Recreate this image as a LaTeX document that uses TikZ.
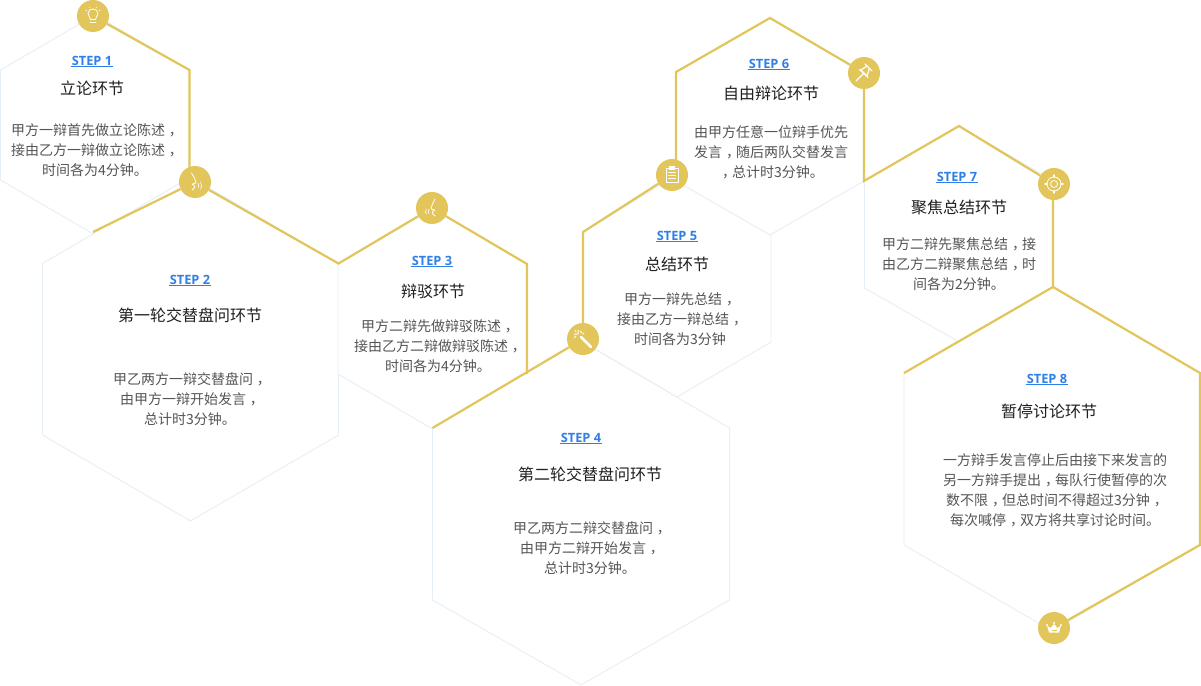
\documentclass[tikz,border=0pt]{standalone}
\usepackage{fontspec}
\setmainfont{Noto Sans CJK SC}
\newfontfamily\stepfont{Open Sans}
\definecolor{gold}{HTML}{E2C55B}
\definecolor{pale}{HTML}{E6EFF5}
\definecolor{stepblue}{HTML}{2F7FE8}
\definecolor{bodygray}{HTML}{555555}
\newcommand{\cmm}{\makebox[14pt][l]{\hspace{4pt}，}}
\newcommand{\hexg}[7]{%
 \coordinate (#1t) at (#2,#4);
 \coordinate (#1ur) at (#2+#3,#5);
 \coordinate (#1lr) at (#2+#3,#6);
 \coordinate (#1b) at (#2,#7);
 \coordinate (#1ll) at (#2-#3,#6);
 \coordinate (#1ul) at (#2-#3,#5);
 \draw[hexline] (#1t)--(#1ur)--(#1lr)--(#1b)--(#1ll)--(#1ul)--cycle;}
\newcommand{\stepl}[4]{%
 \node[steptxt] (#1) at (#2,#3) {#4};
 \draw[stepblue,line width=1pt] ([xshift=-0.8pt,yshift=-1.2pt]#1.south west)--([xshift=0.8pt,yshift=-1.2pt]#1.south east);}
\tikzset{
 hexline/.style={draw=pale,line width=0.9pt,fill=white,line join=miter},
 goldline/.style={draw=gold,line width=2.2pt,line join=miter},
 badge/.style={circle,fill=gold,minimum size=32pt,inner sep=0pt},
 steptxt/.style={font=\stepfont\bfseries\fontsize{12.8}{14}\selectfont,text=stepblue,inner sep=0pt,text height=9pt,text depth=0pt},
 ttl/.style={font=\fontsize{16}{20}\selectfont,text=black!88,inner sep=0pt},
 bodytxt/.style={font=\fontsize{14}{20}\selectfont,text=bodygray,inner sep=0pt,align=center},
 ico/.style={draw=white,line width=0.8pt,line cap=round,line join=round},
 icof/.style={fill=white,draw=none},
}
\begin{document}
\begin{tikzpicture}[x=1pt,y=-1pt]
\useasboundingbox (0,0) rectangle (1201,685);
% hexagons
\hexg{a}{95}{94.5}{15}{70}{180}{235}
\hexg{b}{190.5}{148}{177}{263.5}{435}{521}
\hexg{c}{432.5}{94.5}{209}{264}{374}{429}
\hexg{e}{677}{94}{175}{232}{342}{397}
\hexg{f}{770}{94}{18}{72}{181}{235}
\hexg{g}{959}{94.5}{126}{181}{288}{342}
\hexg{d}{581}{148.5}{341}{428}{600}{685}
\hexg{h}{1052}{148}{287}{373}{545}{631}
% badges
\node[badge] (c1) at (93,16) {};
\node[badge] (c2) at (195,182) {};
\node[badge] (c3) at (432,208) {};
\node[badge] (c4) at (583,339) {};
\node[badge] (c5) at (672,175) {};
\node[badge] (c6) at (864,73) {};
\node[badge] (c7) at (1054,184) {};
\node[badge] (c8) at (1054,628) {};
% gold
\coordinate (g1) at (189.5,172);
\coordinate (g2) at (93,232);
\coordinate (g3) at (583,325);
\coordinate (g4) at (676,162);
\coordinate (g5) at (1053,190);
\coordinate (g6) at (1053,287);
\draw[goldline] (c1)--(aur)--(g1);
\draw[goldline] (g2)--(c2);
\draw[goldline] (c2)--(bur)--(c3)--(cur)--(clr);
\draw[goldline] (dul)--(c4);
\draw[goldline] (g3)--(eul)--(c5);
\draw[goldline] (g4)--(ful)--(ft)--(c6);
\draw[goldline] (c6)--(flr)--(gt)--(c7);
\draw[goldline] (g5)--(g6)--(hul);
\draw[goldline] (g6)--(hur)--(hlr)--(c8);
% text
\stepl{s1}{92}{61}{STEP 1}
\node[ttl] (t1) at (92,88) {立论环节};
\node[bodytxt] (b1) at (95,150) {甲方一辩首先做立论陈述\cmm\\接由乙方一辩做立论陈述\cmm\\时间各为4分钟。};
\stepl{s2}{190}{280}{STEP 2}
\node[ttl] (t2) at (190,315) {第一轮交替盘问环节};
\node[bodytxt] (b2) at (190,399) {甲乙两方一辩交替盘问\cmm\\由甲方一辩开始发言\cmm\\总计时3分钟。};
\stepl{s3}{432}{261}{STEP 3}
\node[ttl] (t3) at (433,291) {辩驳环节};
\node[bodytxt] (b3) at (438,346) {甲方二辩先做辩驳陈述\cmm\\接由乙方二辩做辩驳陈述\cmm\\时间各为4分钟。};
\stepl{s4}{581}{438}{STEP 4}
\node[ttl] (t4) at (590,474) {第二轮交替盘问环节};
\node[bodytxt] (b4) at (590,548) {甲乙两方二辩交替盘问\cmm\\由甲方二辩开始发言\cmm\\总计时3分钟。};
\stepl{s5}{677}{236}{STEP 5}
\node[ttl] (t5) at (677,264) {总结环节};
\node[bodytxt] (b5) at (680,319) {甲方一辩先总结\cmm\\接由乙方一辩总结\cmm\\时间各为3分钟};
\stepl{s6}{769}{63.5}{STEP 6}
\node[ttl] (t6) at (771,93) {自由辩论环节};
\node[bodytxt] (b6) at (771,152) {由甲方任意一位辩手优先\\发言\cmm 随后两队交替发言\\\cmm 总计时3分钟。};
\stepl{s7}{957}{177}{STEP 7}
\node[ttl] (t7) at (959,207) {聚焦总结环节};
\node[bodytxt] (b7) at (959,264) {甲方二辩先聚焦总结\cmm 接\\由乙方二辩聚焦总结\cmm 时\\间各为2分钟。};
\stepl{s8}{1047}{379}{STEP 8}
\node[ttl] (t8) at (1049,411) {暂停讨论环节};
\node[bodytxt] (b8) at (1055,490) {一方辩手发言停止后由接下来发言的\\另一方辩手提出\cmm 每队行使暂停的次\\数不限\cmm 但总时间不得超过3分钟\cmm\\每次喊停\cmm 双方将共享讨论时间。};
% icons
\begin{scope}[shift={(c1)}]
 \draw[ico] (-3,6)--(3,6) (-2.5,3.5)--(2.5,3.5);
 \draw[ico] (-2.5,3.5) .. controls (-2.5,0.5) and (-5,0) .. (-5,-2.5) .. controls (-5,-5.5) and (-2.5,-7) .. (0,-7) .. controls (2.5,-7) and (5,-5.5) .. (5,-2.5) .. controls (5,0) and (2.5,0.5) .. (2.5,3.5);
 \draw[ico,line width=0.6pt] (-7.5,-6)--(-6,-5) (7.5,-6)--(6,-5) (-3.5,-9)--(-3,-8) (3.5,-9)--(3,-8);
\end{scope}
\begin{scope}[shift={(c2)}]
 \draw[ico] (-3.5,-9) .. controls (-1,-5) and (0,-3) .. (1,0) .. controls (1.5,2) and (-3,1) .. (-2.5,2.5) .. controls (0,3) and (1,5) .. (-3,8);
 \draw[ico,line width=0.6pt] (3,1) .. controls (4,3) and (4,5) .. (3,6) (5.5,0) .. controls (7,3) and (7,5) .. (5.5,7);
\end{scope}
\begin{scope}[shift={(c3)}]
 \draw[ico] (3,-9) .. controls (1,-5) and (0,-3) .. (-1,0) .. controls (-1.5,2) and (3,1) .. (2.5,2.5) .. controls (0,3) and (-1,5) .. (3,8);
 \draw[ico,line width=0.6pt] (-3,1) .. controls (-4,3) and (-4,5) .. (-3,6) (-5.5,1) .. controls (-7,3) and (-7,5) .. (-5.5,6);
\end{scope}
\begin{scope}[shift={(c4)}]
 \draw[white,line width=2.6pt,line cap=round] (-2,-2)--(8,8);
 \draw[ico,line width=1pt] (-5,-9)--(-5,-5) (-9,-5)--(-6,-5) (-3,-8)--(-1,-6) (-9,-1)--(-7,-3) (-8,-8.5)--(-7,-7.5) (0,-5)--(1,-6);
\end{scope}
\begin{scope}[shift={(c5)}]
 \draw[ico] (-6,-7) rectangle (6,7.5);
 \draw[icof] (-3,-9) rectangle (3,-5.5);
 \draw[ico] (-3.5,-3)--(3.5,-3) (-3.5,0)--(3.5,0) (-3.5,3)--(3.5,3);
\end{scope}
\begin{scope}[shift={(c6)}]
 \draw[ico,line width=1.2pt] (1,-9)--(8,-2) (3,-7)--(-3,-3)--(3,3)--(5,-3.5) (-4.5,-3.5)--(4,4.5) (-1,1)--(-8,8);
\end{scope}
\begin{scope}[shift={(c7)}]
 \draw[ico] (0,0) circle (7);
 \draw[ico] (0,0) circle (3.5);
 \draw[ico,line width=1.4pt] (0,-9)--(0,-7) (0,7)--(0,9) (-9,0)--(-7,0) (7,0)--(9,0);
\end{scope}
\begin{scope}[shift={(c8)}]
 \fill[white] (-7,-2.5)--(-3.5,0)--(0,-4)--(3.5,0)--(7,-2.5)--(5,4.5)--(-5,4.5)--cycle;
 \fill[white] (-7,-3) circle (1.2) (0,-5) circle (1.2) (7,-3) circle (1.2);
 \fill[gold] (-2.5,2) rectangle (2.5,2.6);
\end{scope}
\end{tikzpicture}
\end{document}
